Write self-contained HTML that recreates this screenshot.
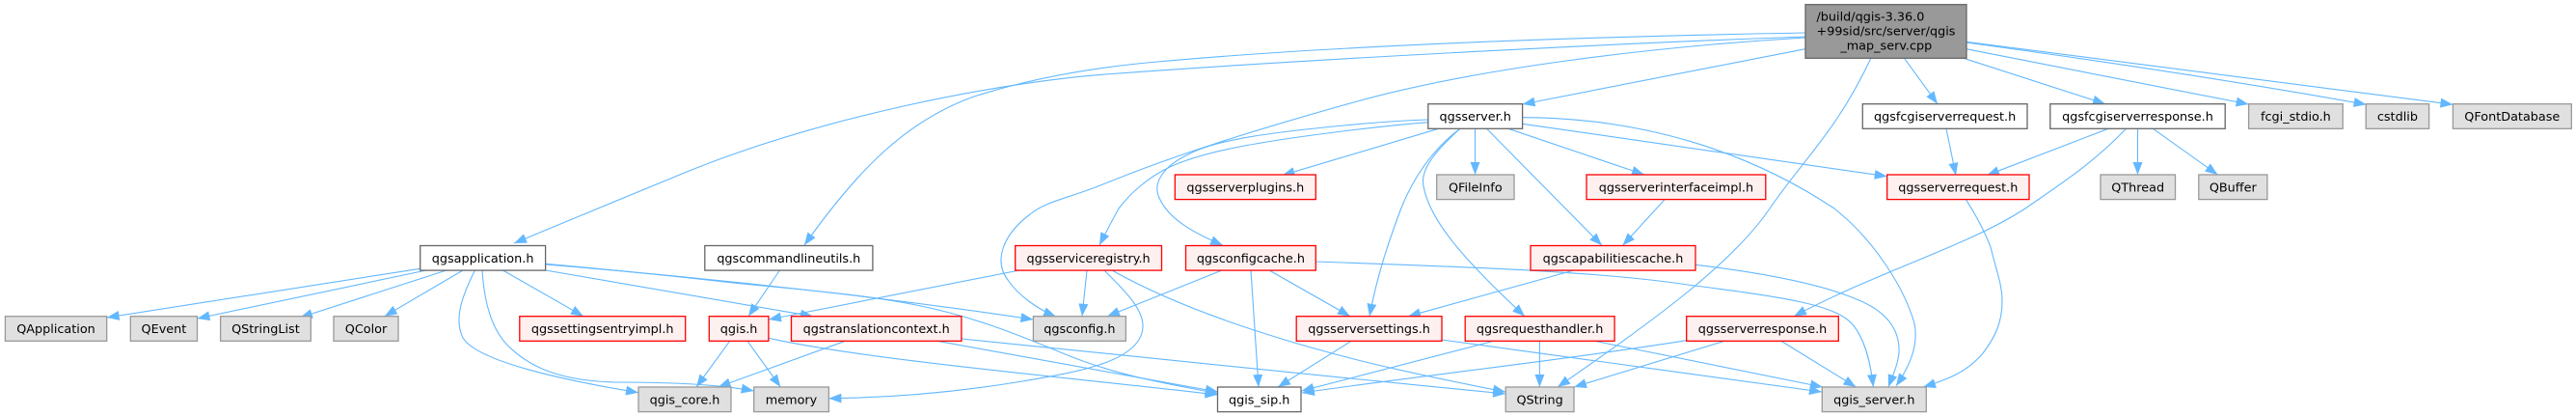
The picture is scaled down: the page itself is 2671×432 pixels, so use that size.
<!DOCTYPE html>
<html><head><meta charset="utf-8"><style>
html,body{margin:0;padding:0;background:#fff}
svg{display:block}
text{font-family:"DejaVu Sans","Liberation Sans",sans-serif;font-size:12.8px;fill:#000;text-anchor:middle}
.w{fill:#fff;stroke:#666;stroke-width:1.3}
.g{fill:#e0e0e0;stroke:#999;stroke-width:1.3}
.r{fill:#fff0f0;stroke:#f00;stroke-width:1.3}
.m{fill:#999;stroke:#666;stroke-width:1.3}
#e path{fill:none;stroke:#63b8ff;stroke-width:1.1;marker-end:url(#a)}
</style></head><body>
<svg width="2671" height="432" viewBox="0 0 2671 432" xmlns="http://www.w3.org/2000/svg">
<defs><marker id="a" viewBox="0 0 13 10" refX="13" refY="5" markerWidth="13" markerHeight="10" orient="auto" markerUnits="userSpaceOnUse"><path d="M0,0L13,5L0,10z" fill="#63b8ff"/></marker></defs>
<g id="e">
<path d="M1872,34C1650,38 1400,46 1200,64C1120,71 1060,84 1010,100C940,125 890,175 834,254"/>
<path d="M1872,38C1650,46 1350,62 1146,77C1040,85 850,120 700,183C640,208 590,228 533,252"/>
<path d="M1872,39C1720,48 1530,70 1400,107C1300,135 1220,160 1146,190C1110,205 1085,208 1068,222C1040,243 1030,270 1045,290C1055,305 1075,320 1095,328"/>
<path d="M1872,50.7L1578.6,108"/>
<path d="M1940,60C1905,135 1870,165 1835,216C1795,275 1710,335 1615,401"/>
<path d="M1974.5,60.3L2009,107.7"/>
<path d="M2036,60.3L2183,107.7"/>
<path d="M2038.5,50.7L2331.6,108"/>
<path d="M2038.5,44C2200,66 2340,88 2453.6,108.3"/>
<path d="M2038.5,43.3L2543.4,108.3"/>
<path d="M1491.5,133.3L1329.5,181.7"/>
<path d="M1481,124C1450,125 1425,127 1400,129.3C1320,137 1262,144 1232,160C1205,173 1195,190 1202,205C1212,228 1240,242 1268,254.3"/>
<path d="M1481,126.7C1450,129 1425,132 1400,135C1310,146 1250,156 1213,173C1190,184 1172,200 1160,216C1155,225 1148,238 1140,254"/>
<path d="M1529.5,133.3L1529.5,181"/>
<path d="M1513.8,133.3C1485,155 1465,185 1452.7,216C1440,250 1428,285 1420,327.7"/>
<path d="M1513.8,133.3C1490,155 1472,175 1476,193C1482,225 1510,262 1581,327.7"/>
<path d="M1541.5,133.3L1661,254.3"/>
<path d="M1564,133.3L1705,181"/>
<path d="M1578.6,128.3L1956.7,182.7"/>
<path d="M1578.6,121.7C1700,122 1810,155 1902,216C1945,250 1975,300 1985,335C1990,360 1978,382 1966,400"/>
<path d="M2018,133.3L2028,181.7"/>
<path d="M2186,133.3L2060,181.7"/>
<path d="M2204.5,133.3C2170,170 2130,195 2100,216C2040,255 1950,280 1860,327.7"/>
<path d="M2216.5,133.3L2216.5,181"/>
<path d="M2232.4,133.3L2299.5,181"/>
<path d="M1726,206.7L1682.6,254.3"/>
<path d="M2038.5,206.7C2050,225 2058,240 2064,256C2070,280 2076,295 2076,312C2076,335 2068,350 2056,366C2040,385 2020,393 1994,401"/>
<path d="M1632,280L1460,327.7"/>
<path d="M1758,274.3C1830,283 1890,295 1925,310C1955,322 1970,340 1969,365C1968,378 1962,390 1958,401"/>
<path d="M1364,271C1500,276 1650,280 1750,295C1850,308 1900,315 1920,335C1935,352 1940,380 1942.4,401"/>
<path d="M1267,280L1148,327.7"/>
<path d="M1297,280L1305,401"/>
<path d="M1316,280L1400,327.7"/>
<path d="M808.5,280L776,327.7"/>
<path d="M1057,280L797,331"/>
<path d="M1127,280L1122,327.7"/>
<path d="M1145,280C1170,305 1190,325 1184,345C1175,375 1120,385 1060,395C1000,405 930,412 859.4,412.7"/>
<path d="M1153,280C1215,315 1300,345 1400,371C1450,384 1510,396 1561,406"/>
<path d="M997,351C1100,362 1250,378 1400,392C1450,397 1510,403 1561,408"/>
<path d="M1400,354L1325,401"/>
<path d="M1495,352L1889,406"/>
<path d="M1596.4,353L1596.4,401"/>
<path d="M1549.6,353L1349.5,405"/>
<path d="M1652,353L1890,401"/>
<path d="M1748.7,352.7C1600,376 1450,392 1350,407"/>
<path d="M1789,353L1632,401"/>
<path d="M1846.4,353L1924.5,401"/>
<path d="M435.7,278.3L110.7,329"/>
<path d="M442,280L204.5,330"/>
<path d="M463,280L311,329"/>
<path d="M480,280L398.7,327.7"/>
<path d="M492.4,280C480,305 470,330 480,350C495,375 590,395 662,406.7"/>
<path d="M500,280C502,310 508,335 522,353C550,385 590,395 640,396C680,396 740,397 781.7,405"/>
<path d="M521.4,280L605,327.7"/>
<path d="M565.6,280L843,327.7"/>
<path d="M565.6,274C700,285 900,305 1071.4,331"/>
<path d="M565.6,273.3C640,280 700,286 760,293C830,300 895,305 950,316C1000,326 1040,340 1102,366C1160,390 1210,397 1262.5,407.7"/>
<path d="M756.7,353.3L722,401"/>
<path d="M775,353.3L809.4,401"/>
<path d="M797,350.3C900,373 1100,390 1262.5,409"/>
<path d="M876.3,353.3L744.6,401"/>
<path d="M972,353.3L1263,406"/>
</g>
<rect class="m" x="1872" y="4.7" width="167" height="55.6"/>
<text style="text-anchor:start" x="1883.5" y="21.5">/build/qgis-3.36.0</text>
<text style="text-anchor:start" x="1883.5" y="36.5">+99sid/src/server/qgis</text>
<text x="1955.8" y="51.5">_map_serv.cpp</text>

<rect class="w" x="1480.8" y="107.7" width="97.8" height="25.6"/><text x="1529.7" y="125">qgsserver.h</text>
<rect class="w" x="1931.3" y="107.7" width="170.7" height="25.6"/><text x="2016.6" y="125">qgsfcgiserverrequest.h</text>
<rect class="w" x="2125.8" y="107.7" width="181.4" height="25.6"/><text x="2216.5" y="125">qgsfcgiserverresponse.h</text>
<rect class="g" x="2331.6" y="107.7" width="97.6" height="25.6"/><text x="2380.4" y="125">fcgi_stdio.h</text>
<rect class="g" x="2453.2" y="107.7" width="65.4" height="25.6"/><text x="2485.9" y="125">cstdlib</text>
<rect class="g" x="2543.4" y="107.7" width="122.9" height="25.6"/><text x="2604.8" y="125">QFontDatabase</text>

<rect class="r" x="1218.3" y="181" width="146" height="25.6"/><text x="1291.3" y="198.3">qgsserverplugins.h</text>
<rect class="g" x="1489.7" y="181" width="80.3" height="25.6"/><text x="1529.8" y="198.3">QFileInfo</text>
<rect class="r" x="1645" y="181" width="185.8" height="25.6"/><text x="1737.9" y="198.3">qgsserverinterfaceimpl.h</text>
<rect class="r" x="1956.7" y="181" width="147.3" height="25.6"/><text x="2030.3" y="198.3">qgsserverrequest.h</text>
<rect class="g" x="2178" y="181" width="77.5" height="25.6"/><text x="2216.7" y="198.3">QThread</text>
<rect class="g" x="2279.8" y="181" width="71.1" height="25.6"/><text x="2315.3" y="198.3">QBuffer</text>

<rect class="w" x="435.7" y="254.5" width="129.9" height="25.6"/><text x="500.6" y="271.8">qgsapplication.h</text>
<rect class="w" x="730.8" y="254.5" width="174.1" height="25.6"/><text x="817.8" y="271.8">qgscommandlineutils.h</text>
<rect class="r" x="1052.7" y="254.5" width="151.8" height="25.6"/><text x="1128.6" y="271.8">qgsserviceregistry.h</text>
<rect class="r" x="1229.5" y="254.5" width="134.8" height="25.6"/><text x="1296.9" y="271.8">qgsconfigcache.h</text>
<rect class="r" x="1587" y="254.5" width="171" height="25.6"/><text x="1672.5" y="271.8">qgscapabilitiescache.h</text>

<rect class="g" x="5.4" y="327.7" width="105.3" height="25.6"/><text x="58" y="345">QApplication</text>
<rect class="g" x="135.3" y="327.7" width="69.2" height="25.6"/><text x="169.9" y="345">QEvent</text>
<rect class="g" x="228.6" y="327.7" width="93.7" height="25.6"/><text x="275.4" y="345">QStringList</text>
<rect class="g" x="346" y="327.7" width="67" height="25.6"/><text x="379.5" y="345">QColor</text>
<rect class="r" x="538.8" y="327.7" width="171.9" height="25.6"/><text x="624.7" y="345">qgssettingsentryimpl.h</text>
<rect class="r" x="735.3" y="327.7" width="61.6" height="25.6"/><text x="766.1" y="345">qgis.h</text>
<rect class="r" x="820.5" y="327.7" width="176.4" height="25.6"/><text x="908.7" y="345">qgstranslationcontext.h</text>
<rect class="g" x="1071.4" y="327.7" width="96" height="25.6"/><text x="1119.4" y="345">qgsconfig.h</text>
<rect class="r" x="1344.2" y="327.7" width="150.8" height="25.6"/><text x="1419.6" y="345">qgsserversettings.h</text>
<rect class="r" x="1519.2" y="327.7" width="154.9" height="25.6"/><text x="1596.6" y="345">qgsrequesthandler.h</text>
<rect class="r" x="1748.7" y="327.7" width="157.6" height="25.6"/><text x="1827.5" y="345">qgsserverresponse.h</text>

<rect class="g" x="662" y="401" width="96" height="25.6"/><text x="710" y="418.3">qgis_core.h</text>
<rect class="g" x="781.7" y="401" width="77.7" height="25.6"/><text x="820.5" y="418.3">memory</text>
<rect class="w" x="1262.5" y="401" width="86.5" height="25.6"/><text x="1305.7" y="418.3">qgis_sip.h</text>
<rect class="g" x="1561.2" y="401" width="70.8" height="25.6"/><text x="1596.6" y="418.3">QString</text>
<rect class="g" x="1889.3" y="401" width="108" height="25.6"/><text x="1943.3" y="418.3">qgis_server.h</text>
</svg>
</body></html>
